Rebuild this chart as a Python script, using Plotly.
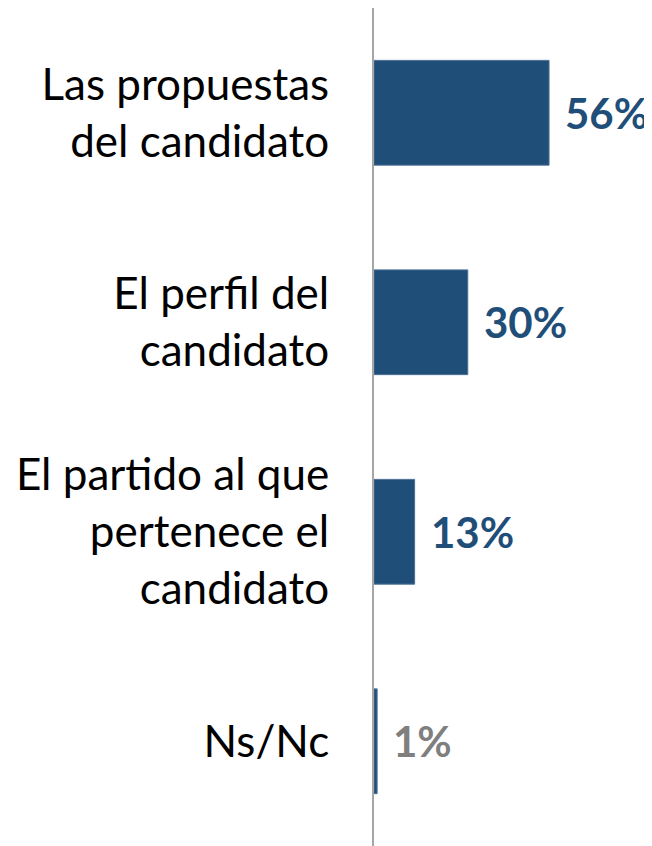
import plotly.graph_objects as go

categories = [
    "Las propuestas<br>del candidato",
    "El perfil del<br>candidato",
    "El partido al que<br>pertenece el<br>candidato",
    "Ns/Nc",
]
values = [56, 30, 13, 1]
value_labels = ["56%", "30%", "13%", "1%"]
label_colors = ["#1F4E79", "#1F4E79", "#1F4E79", "#7F7F7F"]

fig = go.Figure()

fig.add_trace(go.Bar(
    x=values,
    y=categories,
    orientation="h",
    marker=dict(color="#1F4E79", line=dict(color="#4A6F94", width=1)),
    hoverinfo="skip",
))

for v, c, lab, col in zip(values, categories, value_labels, label_colors):
    fig.add_annotation(
        x=v, y=c, text=lab, showarrow=False,
        xanchor="left", xshift=14,
        font=dict(family="Lato", size=42, color=col, weight="bold"),
    )

fig.update_layout(
    width=652,
    height=846,
    margin=dict(l=366, r=0, t=0, b=8),
    bargap=0.5,
    showlegend=False,
    paper_bgcolor="white",
    plot_bgcolor="white",
    font=dict(family="Lato", color="black"),
    xaxis=dict(visible=False, range=[0, 91.5], fixedrange=True),
    yaxis=dict(
        autorange="reversed",
        showline=True, linecolor="#A6A6A6", linewidth=2,
        showgrid=False, zeroline=False,
        ticks="", ticklabelstandoff=34,
        tickfont=dict(family="Lato", size=44, color="black"),
        automargin=False,
    ),
)

fig.write_html("out.html")
